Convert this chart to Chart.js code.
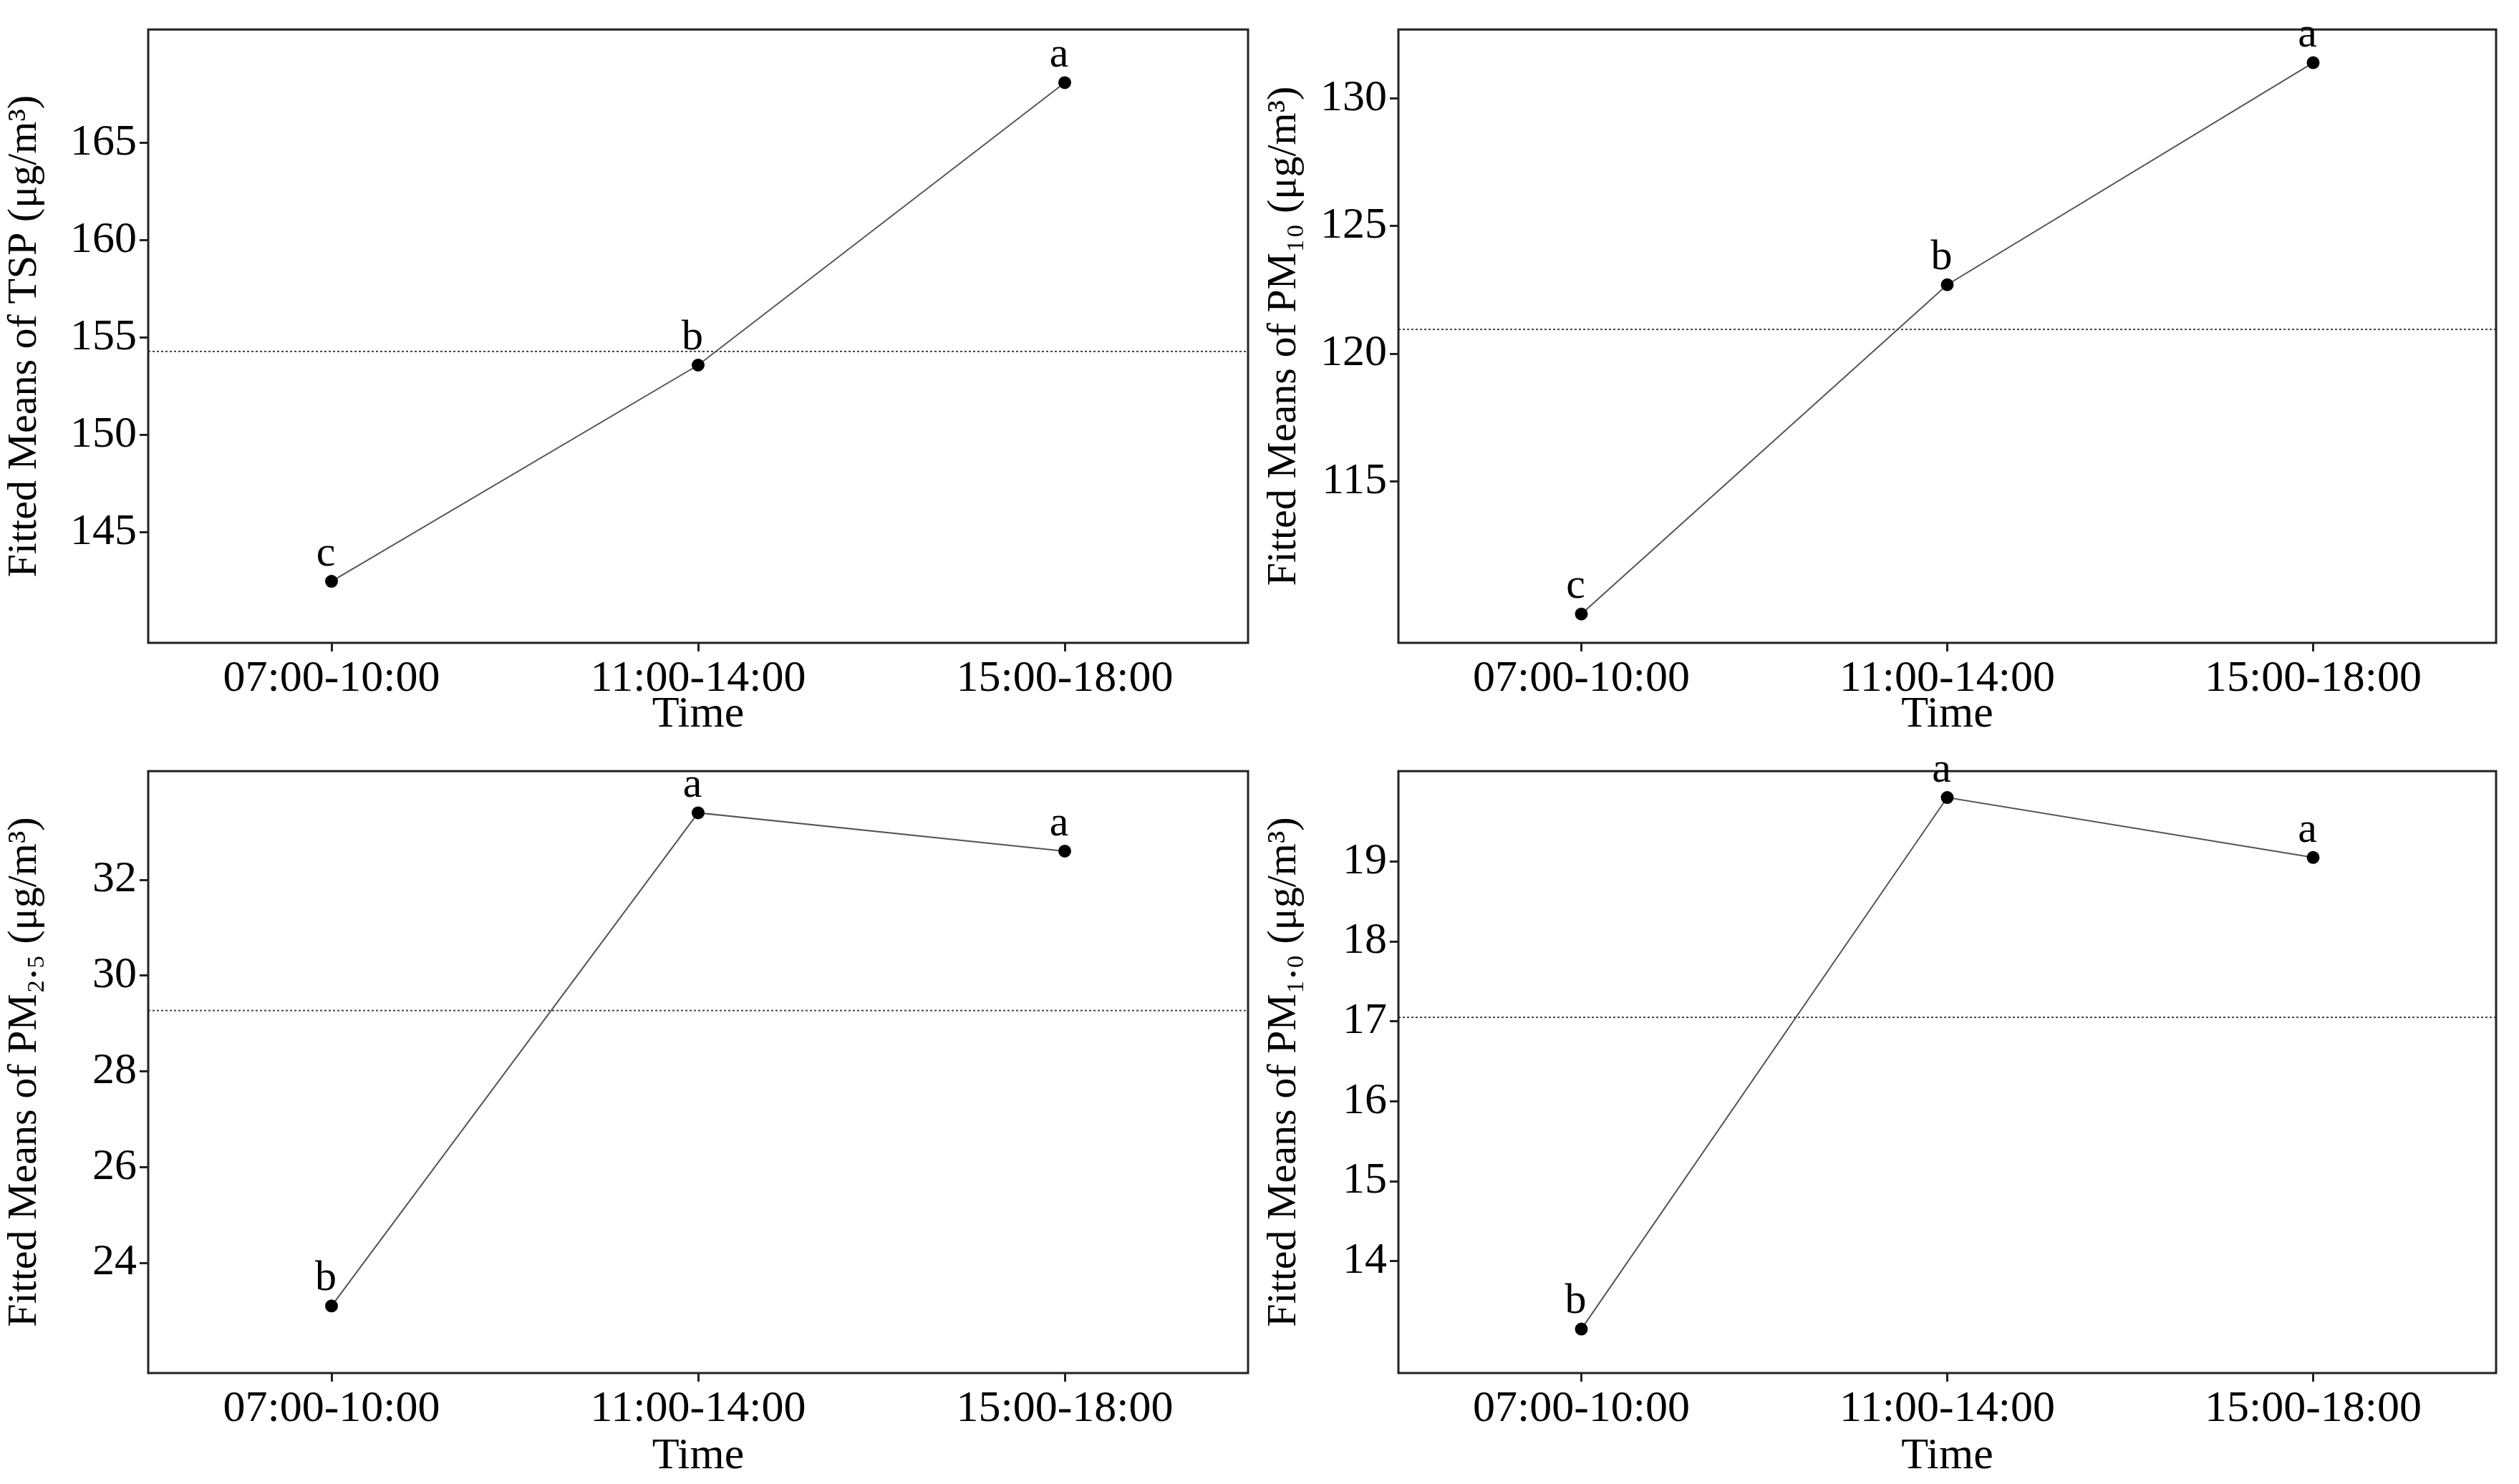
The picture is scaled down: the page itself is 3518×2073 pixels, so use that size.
<!DOCTYPE html>
<html>
<head>
<meta charset="utf-8">
<script src="https://cdn.jsdelivr.net/npm/chart.js@4"></script>
<style>
  body { margin: 0; background: #fff; }
  .panel { position: absolute; width: 1759px; height: 1036px; }
</style>
</head>
<body>
<div class="panel" style="left:0;top:0"><canvas id="c1"></canvas></div>
<div class="panel" style="left:1759px;top:0"><canvas id="c2"></canvas></div>
<div class="panel" style="left:0;top:1036px"><canvas id="c3"></canvas></div>
<div class="panel" style="left:1759px;top:1036px"><canvas id="c4"></canvas></div>
<script>
const periods = ["07:00-10:00", "11:00-14:00", "15:00-18:00"];

const tspMeans = [142.5, 153.6, 168.1];
const pm10Means = [109.8, 122.7, 131.4];
const pm25Means = [23.1, 33.4, 32.6];
const pm1Means = [13.15, 19.8, 19.05];

const tspLetters = ["c", "b", "a"];
const pm10Letters = ["c", "b", "a"];
const pm25Letters = ["b", "a", "a"];
const pm1Letters = ["b", "a", "a"];

// grand mean (dotted line)
const grandMeans = [154.3, 120.95, 29.27, 17.05];

const FONT = "'Liberation Serif', 'DejaVu Serif', serif";

const boxAndLabels = {
    id: "boxAndLabels",
    afterDatasetsDraw(chart) {
        const { ctx, chartArea: a, scales } = chart;
        const opts = chart.options.plugins.boxAndLabels;
        ctx.save();
        // dotted mean line
        const y = scales.y.getPixelForValue(opts.mean);
        ctx.strokeStyle = "#444";
        ctx.lineWidth = 2;
        ctx.setLineDash([3, 3]);
        ctx.beginPath();
        ctx.moveTo(a.left, y);
        ctx.lineTo(a.right, y);
        ctx.stroke();
        ctx.setLineDash([]);
        // frame
        ctx.strokeStyle = "#222";
        ctx.lineWidth = 3;
        ctx.strokeRect(a.left, a.top, a.right - a.left, a.bottom - a.top);
        // letters
        ctx.fillStyle = "#000";
        ctx.font = "60px " + FONT;
        ctx.textAlign = "center";
        ctx.textBaseline = "bottom";
        chart.getDatasetMeta(0).data.forEach((pt, i) => {
            ctx.fillText(opts.letters[i], pt.x - 8, pt.y - 8);
        });
        ctx.restore();
    }
};

function makeChart(id, values, letters, mean, yMin, yMax, step, title, padTop, xHeight, padRight) {
    new Chart(document.getElementById(id), {
        type: "line",
        data: {
            labels: periods,
            datasets: [{
                data: values,
                borderColor: "#555",
                borderWidth: 2,
                pointRadius: 8,
                pointBackgroundColor: "#000",
                pointBorderColor: "#000",
                tension: 0
            }]
        },
        options: {
            responsive: true,
            maintainAspectRatio: false,
            animation: false,
            layout: { padding: { top: padTop, right: padRight, left: 0, bottom: 0 } },
            plugins: {
                legend: { display: false },
                tooltip: { enabled: false },
                boxAndLabels: { letters: letters, mean: mean }
            },
            scales: {
                x: {
                    offset: true,
                    grid: { drawOnChartArea: false, tickLength: 12, color: "#222", lineWidth: 3 },
                    border: { display: false },
                    ticks: { color: "#000", font: { family: FONT, size: 62 }, padding: 2 },
                    title: { display: true, text: "Time", color: "#000", font: { family: FONT, size: 62 }, padding: 0 },
                    afterFit(s) { s.height = xHeight; }
                },
                y: {
                    min: yMin,
                    max: yMax,
                    grid: { drawOnChartArea: false, tickLength: 12, color: "#222", lineWidth: 3 },
                    border: { display: false },
                    ticks: { stepSize: step, color: "#000", font: { family: FONT, size: 62 }, padding: 4 },
                    title: { display: true, text: title, color: "#000", font: { family: FONT, size: 58 }, padding: 0 },
                    afterBuildTicks(s) {
                        s.ticks = s.ticks.filter(t => Math.abs(t.value / step - Math.round(t.value / step)) < 1e-6);
                    },
                    afterFit(s) { s.width = id === "c1" || id === "c3" ? 207 : 194; }
                }
            }
        },
        plugins: [boxAndLabels]
    });
}

makeChart("c1", tspMeans, tspLetters, grandMeans[0], 139.34, 170.83, 5, "Fitted Means of TSP (μg/m³)", 41, 138, 16);
makeChart("c2", pm10Means, pm10Letters, grandMeans[1], 108.67, 132.7, 5, "Fitted Means of PM₁₀ (μg/m³)", 41, 138, 32);
makeChart("c3", pm25Means, pm25Letters, grandMeans[2], 21.7, 34.27, 2, "Fitted Means of PM₂.₅ (μg/m³)", 28, 154, 16);
makeChart("c4", pm1Means, pm1Letters, grandMeans[3], 12.6, 20.13, 1, "Fitted Means of PM₁.₀ (μg/m³)", 28, 154, 32);
</script>
</body>
</html>
